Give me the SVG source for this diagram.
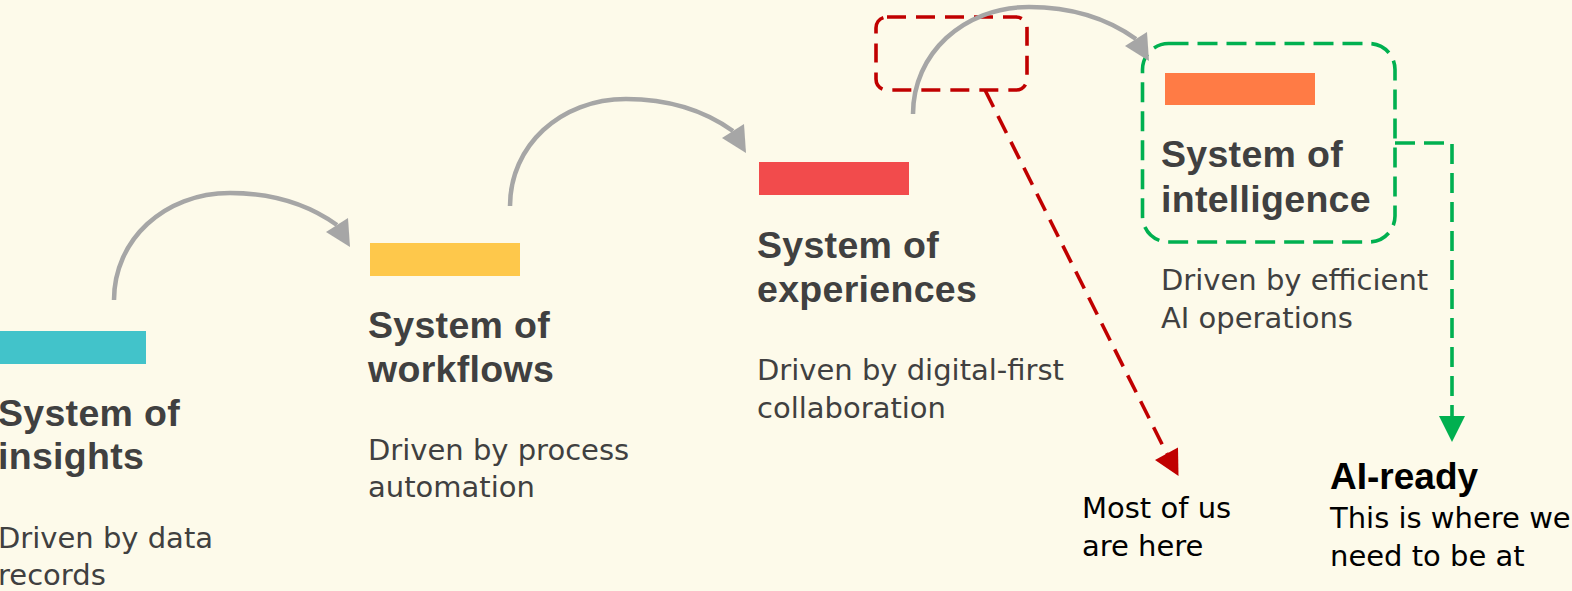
<svg xmlns="http://www.w3.org/2000/svg" width="1572" height="591" viewBox="0 0 1572 591">
  <defs>
    <style>
      .title { font-family: "Liberation Sans", Arial, sans-serif; font-weight: 700; font-size: 37.5px; letter-spacing: 0.3px; fill: #404040; }
      .desc { font-family: "DejaVu Sans", "Liberation Sans", sans-serif; font-size: 29px; fill: #404040; }
      .note { font-family: "DejaVu Sans", "Liberation Sans", sans-serif; font-size: 29px; fill: #000000; }
      .notebold { font-family: "Liberation Sans", Arial, sans-serif; font-weight: 700; font-size: 37px; fill: #000000; }
      .arc { fill: none; stroke: #A6A6A6; stroke-width: 4.5; }
      .archead { fill: #A6A6A6; }
      .reddash { fill: none; stroke: #C00000; stroke-width: 3.6; stroke-dasharray: 19 10; }
      .greendash { fill: none; stroke: #00B050; stroke-width: 3.6; stroke-dasharray: 20 9; }
    </style>
  </defs>
  <rect x="0" y="0" width="1572" height="591" fill="#FDFAEA"/>

  <g id="node-insights">
    <rect x="-4" y="331" width="150" height="33" fill="#42C3CA"/>
    <text class="title" x="-2" y="426">System of</text>
    <text class="title" x="-2" y="469">insights</text>
    <text class="desc" x="-2" y="548">Driven by data</text>
    <text class="desc" x="-2" y="585">records</text>
  </g>

  <g id="node-workflows">
    <rect x="370" y="243" width="150" height="33" fill="#FEC84B"/>
    <text class="title" x="368" y="338">System of</text>
    <text class="title" x="368" y="382">workflows</text>
    <text class="desc" x="368" y="460">Driven by process</text>
    <text class="desc" x="368" y="497">automation</text>
  </g>

  <g id="node-experiences">
    <rect x="759" y="162" width="150" height="33" fill="#F24B4C"/>
    <text class="title" x="757" y="258">System of</text>
    <text class="title" x="757" y="301.5">experiences</text>
    <text class="desc" x="757" y="380">Driven by digital-first</text>
    <text class="desc" x="757" y="418">collaboration</text>
  </g>

  <g id="node-intelligence">
    <rect x="1165" y="73" width="150" height="32" fill="#FF7B45"/>
    <text class="title" x="1161" y="166.5">System of</text>
    <text class="title" x="1161" y="211.5">intelligence</text>
    <text class="desc" x="1161" y="290">Driven by efficient</text>
    <text class="desc" x="1161" y="328">AI operations</text>
  </g>

  <g id="highlight-current">
    <rect x="876" y="17" width="151" height="73" rx="11" ry="11" class="reddash"/>
  </g>

  <g id="highlight-target">
    <rect x="1142.5" y="43.5" width="252.5" height="198.5" rx="26" ry="26" class="greendash"/>
  </g>

  <g id="label-most">
    <text class="note" x="1082" y="518">Most of us</text>
    <text class="note" x="1082" y="556">are here</text>
  </g>

  <g id="label-ai-ready">
    <text class="notebold" x="1330" y="489">AI-ready</text>
    <text class="note" x="1330" y="528">This is where we</text>
    <text class="note" x="1330" y="565.5">need to be at</text>
  </g>

  <g id="connectors">
    <g transform="translate(114,300)">
      <path class="arc" d="M0 0 C0 -60 50 -107 116 -107 C160 -107 195 -95 223 -75"/>
      <polygon class="archead" points="212,-68 234,-82 236,-53"/>
    </g>
    <g transform="translate(510,206)">
      <path class="arc" d="M0 0 C0 -60 50 -107 116 -107 C160 -107 195 -95 223 -75"/>
      <polygon class="archead" points="212,-68 234,-82 236,-53"/>
    </g>
    <g transform="translate(913,114)">
      <path class="arc" d="M0 0 C0 -60 50 -107 116 -107 C160 -107 195 -95 223 -75"/>
      <polygon class="archead" points="212,-68 234,-82 236,-53"/>
    </g>
    <line class="reddash" x1="985" y1="90" x2="1167" y2="454"/>
    <polygon fill="#C00000" points="1155,460 1178,447.5 1178.5,476"/>
    <path class="greendash" d="M1395 143 H1452 V417"/>
    <polygon fill="#00B050" points="1439,416 1465,416 1452,442"/>
  </g>
</svg>
